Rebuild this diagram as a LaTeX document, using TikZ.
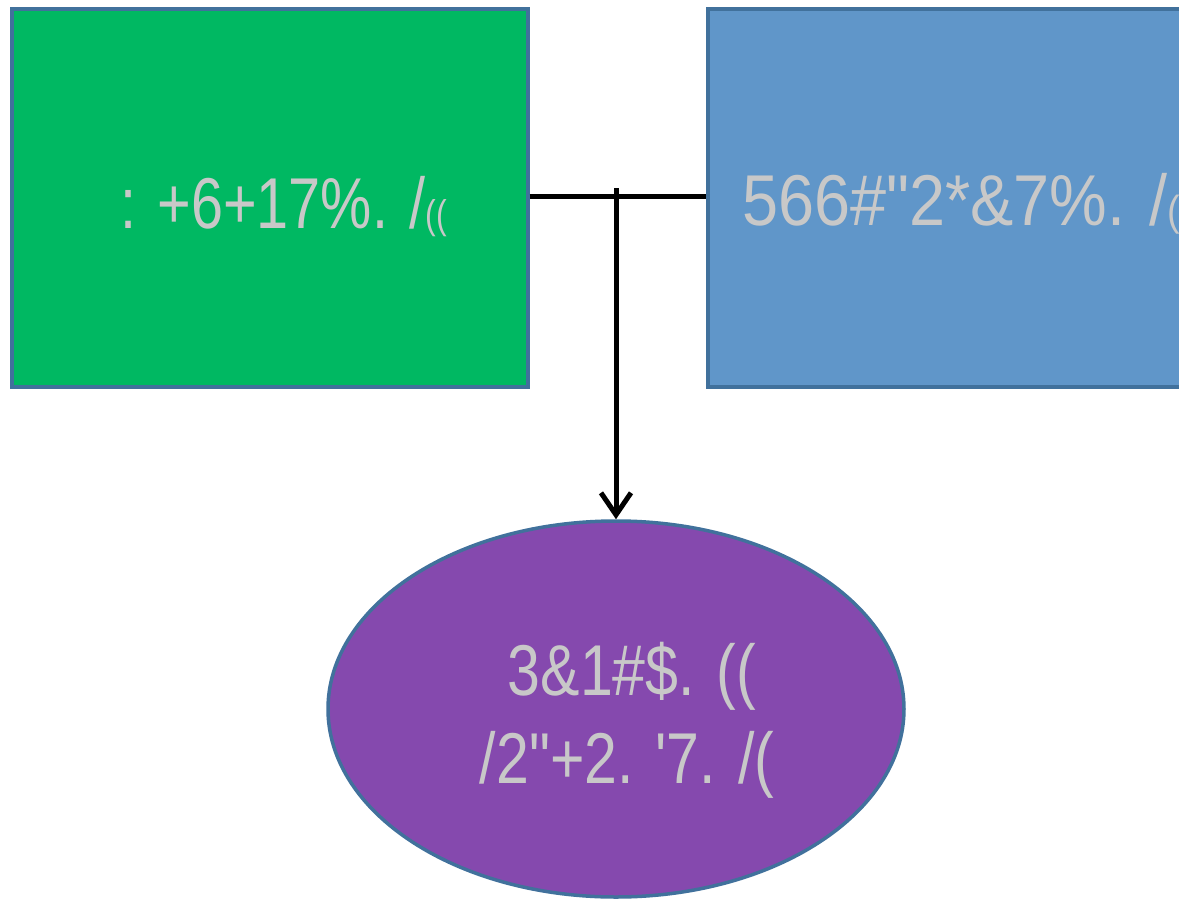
\documentclass[tikz,border=0pt]{standalone}
\usepackage{fontspec}
\setmainfont[FakeStretch=0.78]{Liberation Sans}
\newfontfamily\gfont[FakeStretch=0.8]{Liberation Sans}
\newfontfamily\bfont[FakeStretch=0.9]{Liberation Sans}
\newfontfamily\pfont[FakeStretch=0.82]{Liberation Sans}
\usetikzlibrary{arrows.meta,shapes.geometric}
\definecolor{gfill}{HTML}{00B862}
\definecolor{bfill}{HTML}{6096C9}
\definecolor{pfill}{HTML}{8549AE}
\definecolor{edge}{HTML}{41719C}
\definecolor{txt}{HTML}{C8C8C8}
\newcommand{\dq}{\symbol{34}}
\newcommand{\sq}{\symbol{39}}
\tikzset{
  box/.style={draw=edge, line width=3.5pt, inner sep=0pt},
  lbl/.style={text=txt, inner sep=0pt},
  conn/.style={draw=black, line width=5pt}
}
\begin{document}
\begin{tikzpicture}[x=1pt,y=-1pt]
\useasboundingbox (0,0) rectangle (1179,900);
\clip (0,0) rectangle (1179,900);
\node[box, fill=gfill, minimum width=516pt, minimum height=378pt, anchor=north west] (g) at (10,7) {};
\node[box, fill=bfill, minimum width=500pt, minimum height=378pt, anchor=north west] (b) at (706,7) {};
\node[box, fill=pfill, ellipse, minimum width=576pt, minimum height=376pt] (p) at (616,709) {};
\node[lbl, font=\gfont\fontsize{72}{88}\selectfont, anchor=base west] (gt) at (120,228) {: +6+17\%. /{\fontsize{40}{40}\selectfont ((}};
\node[lbl, font=\bfont\fontsize{72}{88}\selectfont, anchor=base west] (bt) at (742,225) {566\#\dq2*\&7\%. /{\fontsize{42}{42}\selectfont ((}};
\node[lbl, font=\pfont\fontsize{72}{88}\selectfont, anchor=base] (pt1) at (632,695) {3\&1\#\$. ((};
\node[lbl, font=\pfont\fontsize{72}{88}\selectfont, anchor=base] (pt2) at (627,783) {/2\dq+2. \sq7. /(};
\coordinate (j) at (616,196);
\draw[conn] (g.east |- j) -- (b.west |- j);
\draw[conn, -{Straight Barb[length=22pt,width=30pt,line width=5pt]}] ([yshift=8pt]j) -- (p.north);
\end{tikzpicture}
\end{document}
